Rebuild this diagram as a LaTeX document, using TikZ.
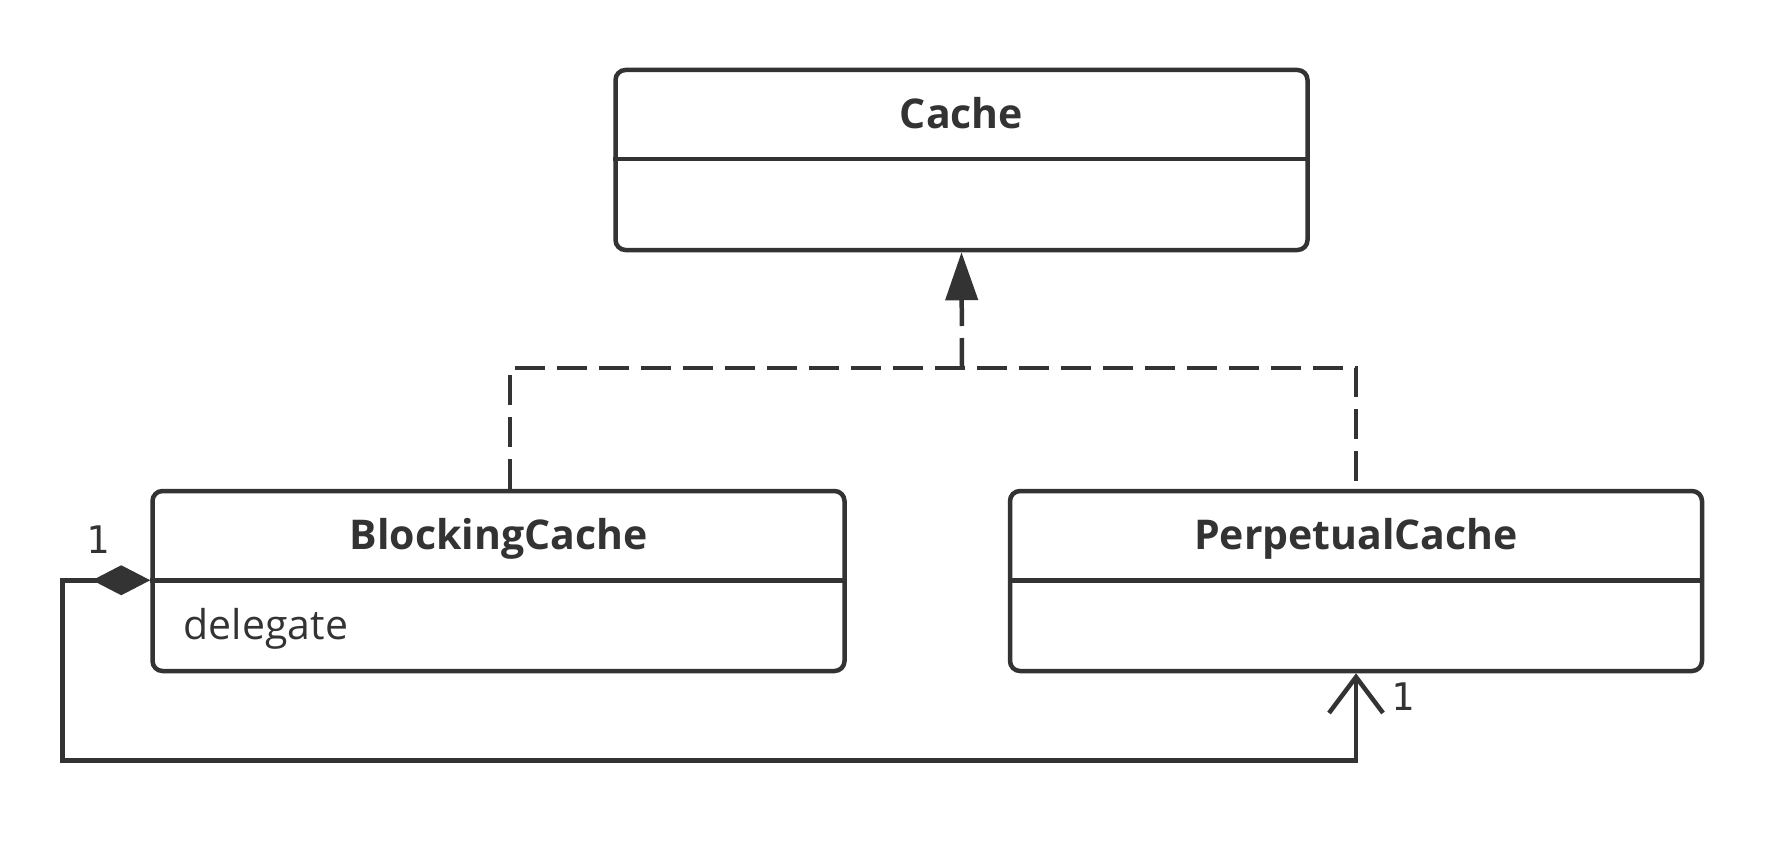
\documentclass[tikz,border=0pt]{standalone}
\usepackage{fontspec}
\setmainfont{Open Sans}
\newfontfamily\numfont{DejaVu Sans Mono}
\usetikzlibrary{positioning,arrows.meta,calc}
\definecolor{inkgray}{RGB}{51,51,51}

\begin{document}
\begin{tikzpicture}[x=1pt,y=-1pt,
  classbox/.style={draw=inkgray,line width=4.5pt,rounded corners=10pt,
    minimum width=692pt,minimum height=180pt,inner sep=0pt},
  classname/.style={font=\bfseries\fontsize{41}{46}\selectfont,text=inkgray,anchor=base},
  member/.style={font=\fontsize{41}{46}\selectfont,text=inkgray,anchor=base west},
  mult/.style={font=\numfont\fontsize{38}{44}\selectfont,text=inkgray},
  divider/.style={draw=inkgray,line width=4.5pt},
  realize/.style={draw=inkgray,line width=4.5pt,dash pattern=on 30pt off 12pt},
  assoc/.style={draw=inkgray,line width=4.5pt}]
\useasboundingbox[fill=white] (0,0) rectangle (1786,848);

% classes
\node[classbox] (cache) at (961.5,160) {};
\node[classbox] (blocking) at (498.5,581) {};
\node[classbox] (perpetual) at (1356,581) {};

\node[classname] (cachename) at ($(cache.north)+(0,61)$) {Cache};
\node[classname] (blockingname) at ($(blocking.north)+(0,61)$) {BlockingCache};
\node[classname] (perpetualname) at ($(perpetual.north)+(0,61)$) {PerpetualCache};
\node[member] (delegate) at ($(blocking.north west)+(30,151)$) {delegate};

\foreach \c in {cache,blocking,perpetual}
  \draw[divider] ($(\c.north west)+(0,91.5)$) -- ($(\c.north east)+(0,91.5)$);

% realization
\coordinate (join) at (962,368);
\draw[realize,-{Triangle[length=48pt,width=32pt]}] (join) -- (cache.south);
\draw[realize] ([xshift=11.5pt]blocking.north) |- (join) -| (perpetual.north);

% composition
\draw[assoc,{Diamond[length=58pt,width=30pt]}-{Straight Barb[length=36pt,width=54pt]}]
  ($(blocking.north west)+(0,91.5)$) -- ++(-88,0) |- ($(perpetual.south)+(0,87)$)
  -- (perpetual.south);
\node[mult] (multblocking) at (98,540) {1};
\node[mult] (multperpetual) at (1403,697) {1};
\end{tikzpicture}
\end{document}
